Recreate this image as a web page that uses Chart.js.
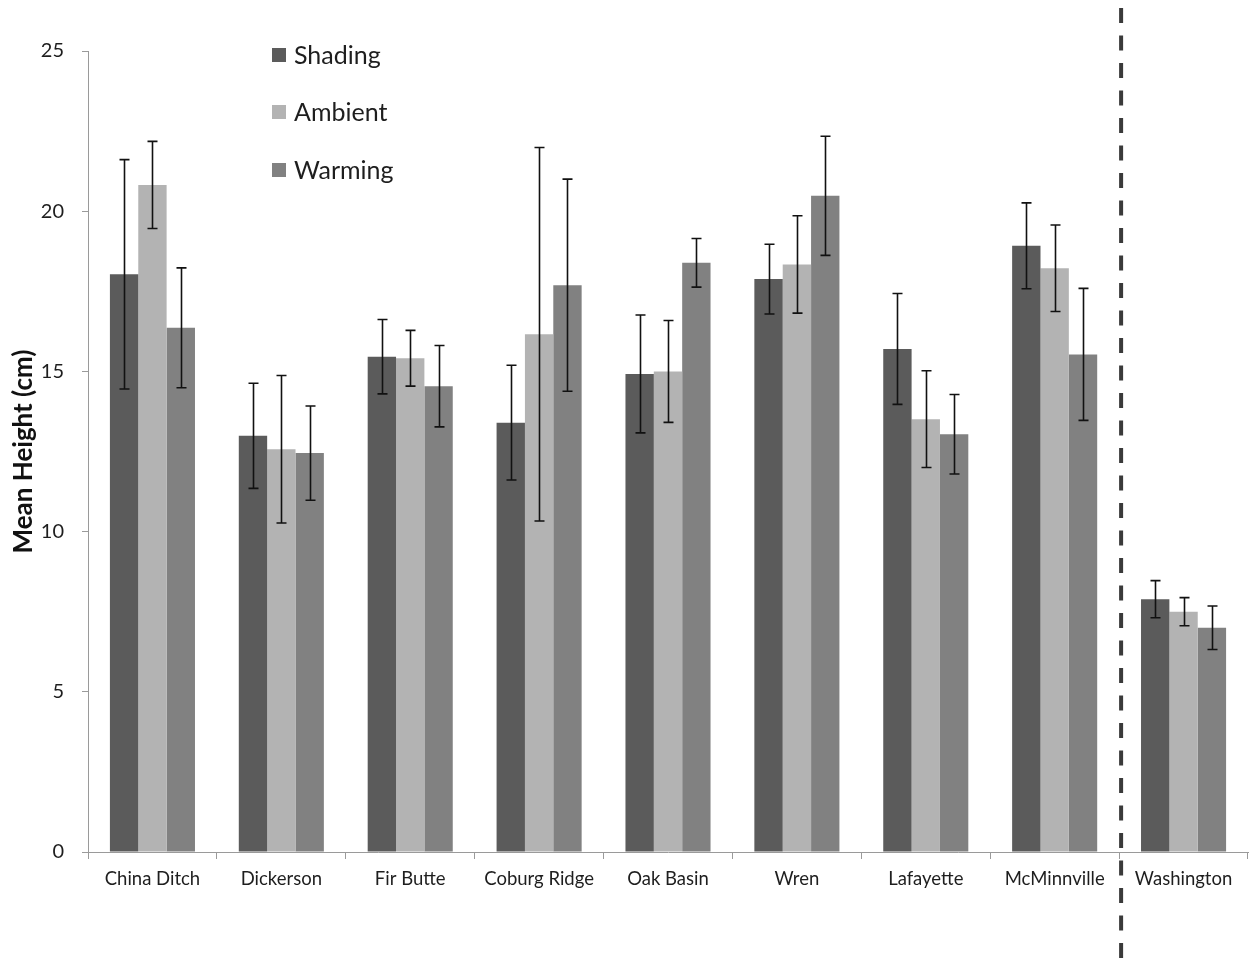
<!DOCTYPE html>
<html>
<head>
<meta charset="utf-8">
<script src="https://cdn.jsdelivr.net/npm/chart.js@4/dist/chart.umd.min.js"></script>
<style>
  html, body { margin: 0; padding: 0; background: #fff; }
  #wrap { width: 1249px; height: 962px; position: relative; }
</style>
</head>
<body>
<div id="wrap"><canvas id="c" width="1249" height="962"></canvas></div>
<script>
// Sites and treatment means (cm) with their error half-widths
const categories = ['China Ditch', 'Dickerson', 'Fir Butte', 'Coburg Ridge', 'Oak Basin', 'Wren', 'Lafayette', 'McMinnville', 'Washington'];
const shading    = [18.03, 12.99, 15.46, 13.40, 14.92, 17.88, 15.70, 18.92, 7.89];
const shadingErr = [3.58, 1.64, 1.16, 1.79, 1.84, 1.09, 1.73, 1.34, 0.58];
const ambient    = [20.82, 12.57, 15.41, 16.16, 15.00, 18.34, 13.51, 18.22, 7.50];
const ambientErr = [1.36, 2.30, 0.87, 5.83, 1.59, 1.52, 1.51, 1.35, 0.44];
const warming    = [16.36, 12.45, 14.54, 17.69, 18.39, 20.48, 13.04, 15.53, 7.00];
const warmingErr = [1.87, 1.47, 1.27, 3.31, 0.76, 1.86, 1.24, 2.06, 0.68];
const yTicks = [0, 5, 10, 15, 20, 25];

const FONT = 'Lato, "Open Sans", sans-serif';

// Error bars drawn from each dataset's errors array
const errorBars = {
  id: 'errorBars',
  afterDatasetsDraw(chart) {
    const ctx = chart.ctx;
    const y = chart.scales.y;
    ctx.save();
    ctx.strokeStyle = '#111';
    ctx.lineWidth = 1.6;
    chart.data.datasets.forEach((ds, di) => {
      const meta = chart.getDatasetMeta(di);
      meta.data.forEach((bar, i) => {
        const v = ds.data[i], e = ds.errors[i];
        const x = Math.round(bar.x) + 0.5;
        const yt = y.getPixelForValue(v + e);
        const yb = y.getPixelForValue(v - e);
        ctx.beginPath();
        ctx.moveTo(x, yt); ctx.lineTo(x, yb);
        ctx.moveTo(x - 5, yt); ctx.lineTo(x + 5, yt);
        ctx.moveTo(x - 5, yb); ctx.lineTo(x + 5, yb);
        ctx.stroke();
      });
    });
    ctx.restore();
  }
};

// Dashed separator before the last site, full canvas height
const separator = {
  id: 'separator',
  afterDraw(chart) {
    const xs = chart.scales.x;
    const n = categories.length;
    const x = (xs.getPixelForValue(n - 2) + xs.getPixelForValue(n - 1)) / 2 + 2;
    const ctx = chart.ctx;
    ctx.save();
    ctx.strokeStyle = '#3a3a3a';
    ctx.lineWidth = 4;
    ctx.setLineDash([15, 12.5]);
    ctx.beginPath();
    ctx.moveTo(x, 8);
    ctx.lineTo(x, chart.height);
    ctx.stroke();
    ctx.restore();
  }
};

// Stacked legend inside the plot
const innerLegend = {
  id: 'innerLegend',
  afterDraw(chart) {
    const ctx = chart.ctx;
    const rows = [55, 112, 170];
    ctx.save();
    ctx.font = '25px ' + FONT;
    ctx.textBaseline = 'middle';
    chart.data.datasets.forEach((ds, i) => {
      const cy = rows[i];
      ctx.fillStyle = ds.backgroundColor;
      ctx.fillRect(272, cy - 7, 14, 14);
      ctx.fillStyle = '#1e1e1e';
      ctx.fillText(ds.label, 294, cy + 1);
    });
    ctx.restore();
  }
};

new Chart(document.getElementById('c'), {
  type: 'bar',
  data: {
    labels: categories,
    datasets: [
      { label: 'Shading', data: shading, errors: shadingErr, backgroundColor: '#5b5b5b' },
      { label: 'Ambient', data: ambient, errors: ambientErr, backgroundColor: '#b3b3b3' },
      { label: 'Warming', data: warming, errors: warmingErr, backgroundColor: '#818181' }
    ]
  },
  options: {
    responsive: false,
    animation: false,
    devicePixelRatio: 1,
    layout: { padding: { top: 51, right: 1, left: 0, bottom: 0 } },
    datasets: { bar: { categoryPercentage: 0.66, barPercentage: 1.0, borderWidth: 0 } },
    plugins: {
      legend: { display: false },
      tooltip: { enabled: false }
    },
    scales: {
      x: {
        grid: { display: true, drawOnChartArea: false, offset: true, tickLength: 7, color: '#9a9a9a', lineWidth: 1 },
        border: { color: '#9a9a9a', width: 1 },
        ticks: { color: '#1e1e1e', font: { family: FONT, size: 18.5 }, padding: 9, maxRotation: 0, autoSkip: false },
        afterFit(s) { s.height = 110; }
      },
      y: {
        min: 0, max: 25,
        afterBuildTicks(s) { s.ticks = yTicks.map(v => ({ value: v })); },
        grid: { display: true, drawOnChartArea: false, tickLength: 6, color: '#9a9a9a', lineWidth: 1 },
        border: { color: '#9a9a9a', width: 1 },
        ticks: { color: '#1e1e1e', font: { family: FONT, size: 20 }, padding: 18 },
        title: { display: true, text: 'Mean Height (cm)', color: '#111', font: { family: FONT, size: 26, weight: 'bold' }, padding: { top: 8, bottom: 0 } },
        afterFit(s) { s.width = 88; }
      }
    }
  },
  plugins: [errorBars, separator, innerLegend]
});
</script>
</body>
</html>
